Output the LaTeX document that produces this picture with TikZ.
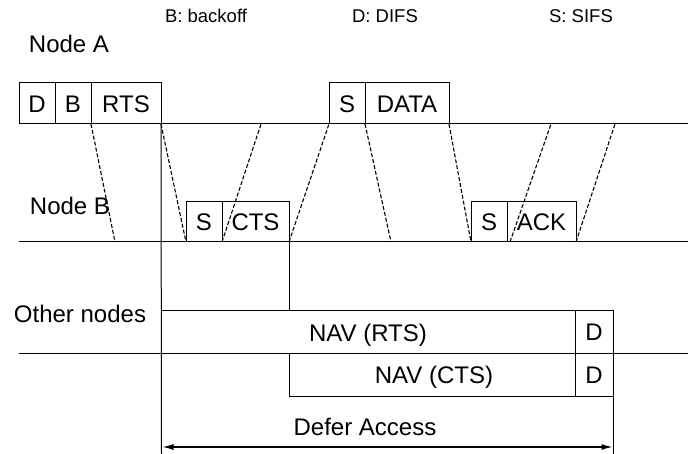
\documentclass[tikz,border=0pt]{standalone}
\usepackage{fontspec}
\setmainfont{Liberation Sans}
\usetikzlibrary{arrows.meta}

\begin{document}
\begin{tikzpicture}[x=1pt,y=-1pt,
    every node/.style={inner sep=0pt, outer sep=0pt},
    lbl/.style={font=\fontsize{24}{28}\selectfont, anchor=base},
    legend/.style={font=\fontsize{18.5}{22}\selectfont, anchor=base},
    box/.style={draw=black, line width=1pt, anchor=south west,
                font=\fontsize{24}{28}\selectfont,
                text height=17.2pt, text depth=0pt},
    axis/.style={draw=black, line width=1pt},
    prop/.style={draw=black, line width=1.1pt, dash pattern=on 4pt off 2pt},
    span/.style={draw=black, line width=1.3pt, {Latex[length=11pt,width=6pt]}-{Latex[length=11pt,width=6pt]}}]
  \useasboundingbox (0,0) rectangle (688,454);

  % legend
  \node[legend] (lgB) at (206,23) {B: backoff};
  \node[legend] (lgD) at (385,23) {D: DIFS};
  \node[legend] (lgS) at (581,23) {S: SIFS};

  % station labels
  \node[lbl] (labA) at (69,53) {Node A};
  \node[lbl] (labB) at (70,215) {Node B};
  \node[lbl] (labO) at (80,323) {Other nodes};

  % time axes
  \coordinate (aL) at (19,124);  \coordinate (aR) at (688,124);
  \coordinate (bL) at (19,242);  \coordinate (bR) at (688,242);
  \coordinate (oL) at (19,353);  \coordinate (oR) at (688,353);
  \draw[axis] (aL) -- (aR);
  \draw[axis] (bL) -- (bR);
  \draw[axis] (oL) -- (oR);

  % node A frames
  \node[box, minimum width=36pt, minimum height=41pt] (aD)   at (19,124)  {D};
  \node[box, minimum width=36pt, minimum height=41pt] (aB)   at (55,124)  {B};
  \node[box, minimum width=70pt, minimum height=41pt] (aRTS) at (91,124)  {RTS};
  \node[box, minimum width=36pt, minimum height=41pt] (aS)   at (329,124) {S};
  \node[box, minimum width=84pt, minimum height=41pt] (aDAT) at (365,124) {DATA};

  % node B frames
  \node[box, minimum width=36pt, minimum height=40pt] (bS1)  at (186,242) {S};
  \node[box, minimum width=67pt, minimum height=40pt] (bCTS) at (222,242) {CTS};
  \node[box, minimum width=36pt, minimum height=40pt] (bS2)  at (471,242) {S};
  \node[box, minimum width=69pt, minimum height=40pt] (bACK) at (507,242) {ACK};

  % NAV settings of the other nodes
  \node[box, minimum width=413.5pt, minimum height=42pt] (navR) at (161.5,353) {};
  \node[lbl] (navRt) at (368,341.5) {NAV (RTS)};
  \node[box, minimum width=38pt, minimum height=42pt] (navRD) at (575,353) {D};
  \node[box, minimum width=286pt, minimum height=43pt] (navC) at (289,396) {};
  \node[lbl] (navCt) at (434,383) {NAV (CTS)};
  \node[box, minimum width=38pt, minimum height=43pt] (navCD) at (575,396) {D};

  % propagation of the frames between A and B
  \coordinate (p1) at (115,242);
  \coordinate (p3) at (261,124);
  \coordinate (p5) at (391,242);
  \coordinate (p7) at (551,124);
  \coordinate (p8) at (615,124);
  \draw[prop] (aB.south east) -- (p1);
  \draw[prop] (aRTS.south east) -- (bS1.south west);
  \draw[prop] (bS1.south east) -- (p3);
  \draw[prop] (bCTS.south east) -- (aS.south west);
  \draw[prop] (aS.south east) -- (p5);
  \draw[prop] (aDAT.south east) -- (bS2.south west);
  \draw[prop] ([xshift=3pt]bS2.south east) -- (p7);
  \draw[prop] (bACK.south east) -- (p8);

  % markers of the deferral interval
  \coordinate (vL) at (161.5,454);
  \coordinate (vR) at (613,454);
  \draw[axis] (aRTS.south east) -- (vL);
  \draw[axis] (bCTS.south east) -- (navR.north -| bCTS.south east);
  \draw[axis] (navCD.south east) -- (vR);

  \coordinate (dL) at (162.5,447);
  \coordinate (dR) at (612.5,447);
  \draw[span] (dL) -- (dR);
  \node[lbl] (defer) at (365,435) {Defer Access};
\end{tikzpicture}
\end{document}
